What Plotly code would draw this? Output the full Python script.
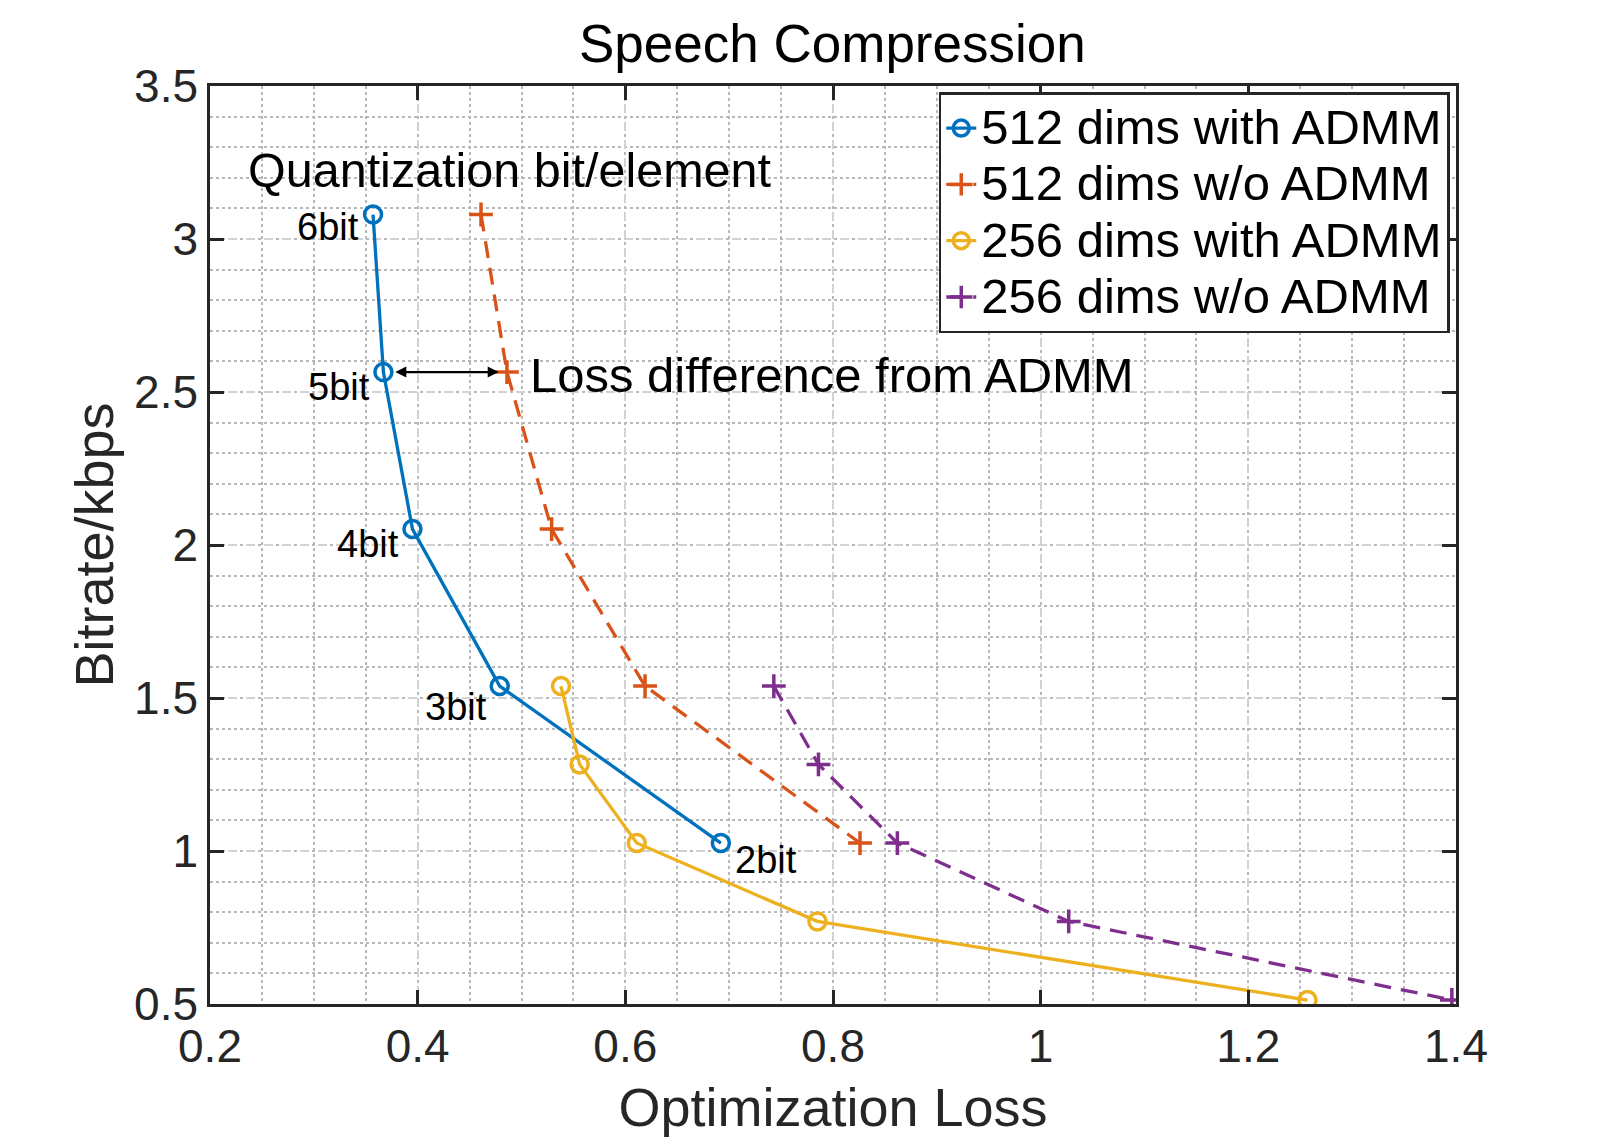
"""
Speech Compression — bitrate vs optimization loss (MATLAB-style figure)
"""
import plotly.graph_objects as go

# bits per element for each point (6 -> 2)
BITS = ['6bit', '5bit', '4bit', '3bit', '2bit']

# bitrates (kbps)
rate_512 = [3.08, 2.565, 2.052, 1.539, 1.026]
rate_256 = [1.539, 1.283, 1.026, 0.770, 0.513]

# optimization loss
loss_512_admm = [0.357, 0.367, 0.395, 0.479, 0.692]
loss_512_plain = [0.461, 0.486, 0.529, 0.619, 0.826]
loss_256_admm = [0.538, 0.556, 0.611, 0.785, 1.257]
loss_256_plain = [0.743, 0.786, 0.862, 1.027, 1.396]

X_TICKS = [0.2, 0.4, 0.6, 0.8, 1, 1.2, 1.4]
Y_TICKS = [0.5, 1, 1.5, 2, 2.5, 3, 3.5]

FONT = 'Liberation Sans, Arial, Helvetica, sans-serif'
AXIS_COLOR = '#262626'
LEGEND_TEXT = 49

fig = go.Figure()

series = [
    ('512 dims with ADMM', loss_512_admm, rate_512, '#0072BD', 'solid', 'circle-open'),
    ('512 dims w/o ADMM', loss_512_plain, rate_512, '#D95319', '17px,10px', 'cross-thin-open'),
    ('256 dims with ADMM', loss_256_admm, rate_256, '#EDB120', 'solid', 'circle-open'),
    ('256 dims w/o ADMM', loss_256_plain, rate_256, '#7E2F8E', '17px,10px', 'cross-thin-open'),
]

for name, xs, ys, color, dash, symbol in series:
    fig.add_trace(go.Scatter(
        x=xs, y=ys, mode='lines+markers',
        name=f'<span style="font-size:{LEGEND_TEXT}px">{name}</span>',
        line=dict(color=color, width=3.3, dash=dash),
        marker=dict(symbol=symbol, size=17,
                    color=color, line=dict(color=color, width=3.5)),
    ))

# bit labels next to the blue curve
label_pos = [
    dict(dx=-0.012, dy=-0.04, anchor='right'),
    dict(dx=-0.043, dy=-0.05, anchor='center'),
    dict(dx=-0.043, dy=-0.05, anchor='center'),
    dict(dx=-0.042, dy=-0.067, anchor='center'),
    dict(dx=0.043, dy=-0.057, anchor='center'),
]
for b, x, y, p in zip(BITS, loss_512_admm, rate_512, label_pos):
    fig.add_annotation(x=x + p['dx'], y=y + p['dy'], text=b, showarrow=False,
                       xref='x', yref='y', xanchor=p['anchor'], yanchor='middle',
                       font=dict(family=FONT, size=38, color='black'))

fig.add_annotation(x=0.235, y=3.227, text='Quantization bit/element', showarrow=False,
                   xanchor='left', yanchor='middle',
                   font=dict(family=FONT, size=48.5, color='black'))

# double arrow between the 5bit points
fig.add_annotation(x=loss_512_plain[1] - 0.008, y=rate_512[1],
                   ax=loss_512_admm[1] + 0.01, ay=rate_512[1],
                   xref='x', yref='y', axref='x', ayref='y', text='',
                   showarrow=True, arrowhead=2, arrowside='end+start',
                   arrowsize=1, arrowwidth=2.2, arrowcolor='black')
fig.add_annotation(x=0.506, y=2.557, text='Loss difference from ADMM', showarrow=False,
                   xanchor='left', yanchor='middle',
                   font=dict(family=FONT, size=49, color='black'))

axis_common = dict(
    showline=True, linecolor=AXIS_COLOR, linewidth=2.5, mirror='ticks',
    ticks='inside', ticklen=14, tickwidth=2.5, tickcolor=AXIS_COLOR,
    showgrid=True, gridcolor='#d2d2d2', gridwidth=2, griddash='dash',
    zeroline=False, automargin=False,
    tickfont=dict(family=FONT, size=46, color=AXIS_COLOR),
)

fig.update_xaxes(
    range=[0.2, 1.4], tickvals=X_TICKS, ticktext=[f'{v:g}' for v in X_TICKS],
    title=dict(text='Optimization Loss', font=dict(family=FONT, size=54, color=AXIS_COLOR),
               standoff=18),
    minor=dict(dtick=0.05, showgrid=True, gridcolor='#b8b8b8', gridwidth=2, griddash='dot',
               ticks=''),
    **axis_common,
)
fig.update_yaxes(
    range=[0.5, 3.5], tickvals=Y_TICKS, ticktext=[f'{v:g}' for v in Y_TICKS],
    title=dict(text='Bitrate/kbps', font=dict(family=FONT, size=54, color=AXIS_COLOR),
               standoff=4),
    minor=dict(dtick=0.1, tick0=0.5, showgrid=True, gridcolor='#b8b8b8', gridwidth=2,
               griddash='dot', ticks=''),
    **axis_common,
)

fig.update_layout(
    width=1610, height=1137, autosize=False,
    margin=dict(l=210, r=154, t=86, b=133),
    paper_bgcolor='white', plot_bgcolor='white',
    title=dict(text='Speech Compression', x=0.5170, xanchor='center', y=0.962, yanchor='middle',
               font=dict(family=FONT, size=53, color='black')),
    legend=dict(x=0.995, y=0.993, xanchor='right', yanchor='top',
                bgcolor='white', bordercolor=AXIS_COLOR, borderwidth=2.5,
                font=dict(family=FONT, size=41, color='black'),
                itemwidth=30, tracegroupgap=0),
    showlegend=True,
)

fig.write_html("out.html", config={'displayModeBar': False},
               post_script="document.body.style.margin='0';")
